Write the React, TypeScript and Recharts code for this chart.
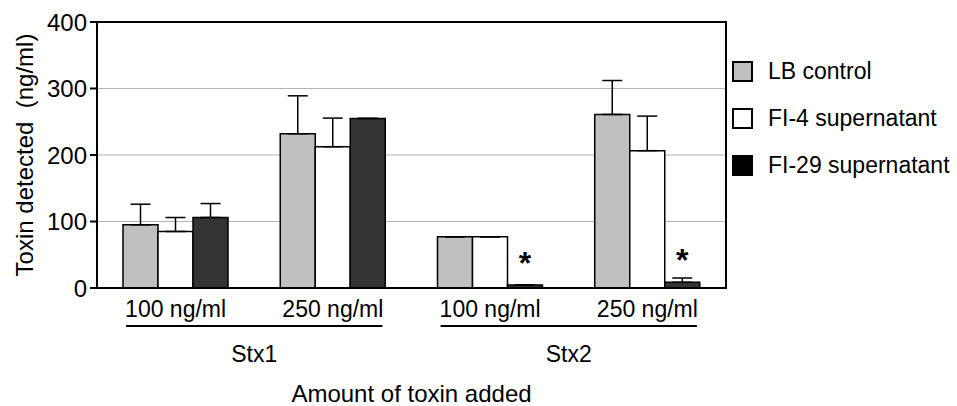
import {
  Bar,
  BarChart,
  CartesianGrid,
  ErrorBar,
  LabelList,
  Legend,
  ReferenceArea,
  XAxis,
  YAxis,
} from "recharts";

const doses = ["100 ng/ml", "250 ng/ml", "100 ng/ml", "250 ng/ml"];
const toxins = ["Stx1", "Stx1", "Stx2", "Stx2"];

const lbControl = [95, 232, 77, 261];
const lbError = [31, 57, 0, 51];
const fi4 = [85, 212.5, 77, 206.5];
const fi4Error = [21, 43, 0, 52];
const fi29 = [106, 255, 4.5, 8.5];
const fi29Error = [21, 0, 0, 6.5];
const significance = ["", "", "*", "*"];

const yTicks = [0, 100, 200, 300, 400];

const SERIES = [
  { key: "lb", name: "LB control", swatch: "#c0c0c0" },
  { key: "fi4", name: "FI-4 supernatant", swatch: "#ffffff" },
  { key: "fi29", name: "FI-29 supernatant", swatch: "#000000" },
];

const data = doses.map((dose, i) => ({
  dose,
  toxin: toxins[i],
  lb: lbControl[i],
  lbErr: [0, lbError[i]],
  fi4: fi4[i],
  fi4Err: [0, fi4Error[i]],
  fi29: fi29[i],
  fi29Err: [0, fi29Error[i]],
  sig: significance[i],
}));

function GroupTick(props: any) {
  const { x, y, payload } = props;
  const half = (payload.offset ?? 0) * 0.815;
  return (
    <g>
      <line x1={x - half} x2={x + half} y1={y} y2={y} stroke="#000" strokeWidth={2} />
      <text x={x} y={y + 36} textAnchor="middle" fontSize={23} fill="#000">
        {payload.value}
      </text>
    </g>
  );
}

function LegendBox() {
  return (
    <div>
      {SERIES.map((s) => (
        <div
          key={s.key}
          style={{ display: "flex", alignItems: "center", height: 47 }}
        >
          <div
            style={{
              width: 17,
              height: 17,
              background: s.swatch,
              border: "2px solid #000",
              marginRight: 15,
            }}
          />
          <span style={{ fontSize: 23, color: "#000", whiteSpace: "nowrap" }}>
            {s.name}
          </span>
        </div>
      ))}
    </div>
  );
}

export default function App() {
  return (
    <div
      style={{
        position: "absolute",
        left: 0,
        top: 0,
        width: 957,
        height: 406,
        background: "#fff",
        fontFamily: "'Liberation Sans', Arial, sans-serif",
      }}
    >
      <BarChart
        width={957}
        height={406}
        data={data}
        margin={{ top: 22, right: 6, bottom: 0, left: 0 }}
        barCategoryGap={26}
        barGap={0}
      >
        <CartesianGrid vertical={false} stroke="#b4b4b4" strokeWidth={1.2} />
        <ReferenceArea y1={0} y2={400} fill="none" stroke="#000" strokeWidth={2} />
        <XAxis
          dataKey="dose"
          height={38}
          interval={0}
          tickLine={false}
          tickSize={0}
          tickMargin={13}
          axisLine={{ stroke: "#000", strokeWidth: 2 }}
          tick={{ fontSize: 23, fill: "#000" }}
        />
        <XAxis
          xAxisId="grp"
          dataKey="toxin"
          allowDuplicatedCategory={false}
          interval={0}
          height={80}
          axisLine={false}
          tickLine={false}
          tickSize={0}
          tickMargin={0}
          tick={(p: any) => <GroupTick {...p} />}
          label={{
            value: "Amount of toxin added",
            position: "insideBottom",
            offset: 4,
            style: { fontSize: 24, fill: "#000" },
          }}
        />
        <YAxis
          width={97}
          domain={[0, 400]}
          ticks={yTicks}
          interval={0}
          tickSize={7}
          tickMargin={3}
          axisLine={{ stroke: "#000", strokeWidth: 2 }}
          tickLine={{ stroke: "#000", strokeWidth: 2 }}
          tick={{ fontSize: 24, fill: "#000" }}
          label={{
            value: "Toxin detected\u00A0 (ng/ml)",
            angle: -90,
            position: "insideLeft",
            offset: 24,
            style: { textAnchor: "middle", fontSize: 24, fill: "#000" },
          }}
        />
        <Legend
          layout="horizontal"
          verticalAlign="middle"
          align="right"
          content={() => <LegendBox />}
          wrapperStyle={{ left: 732, top: 48, right: "auto", width: 225 }}
        />
        <Bar dataKey="lb" name="LB control" fill="#c0c0c0" stroke="#000" strokeWidth={1.5} isAnimationActive={false}>
          <ErrorBar dataKey="lbErr" direction="y" width={10} stroke="#000" strokeWidth={1.5} />
        </Bar>
        <Bar dataKey="fi4" name="FI-4 supernatant" fill="#ffffff" stroke="#000" strokeWidth={1.5} isAnimationActive={false}>
          <ErrorBar dataKey="fi4Err" direction="y" width={10} stroke="#000" strokeWidth={1.5} />
        </Bar>
        <Bar dataKey="fi29" name="FI-29 supernatant" fill="#333333" stroke="#000" strokeWidth={1.5} isAnimationActive={false}>
          <ErrorBar dataKey="fi29Err" direction="y" width={10} stroke="#000" strokeWidth={1.5} />
          <LabelList
            dataKey="sig"
            position="top"
            offset={11}
            style={{ fontSize: 32, fontWeight: "bold", fill: "#000" }}
          />
        </Bar>
      </BarChart>
    </div>
  );
}
